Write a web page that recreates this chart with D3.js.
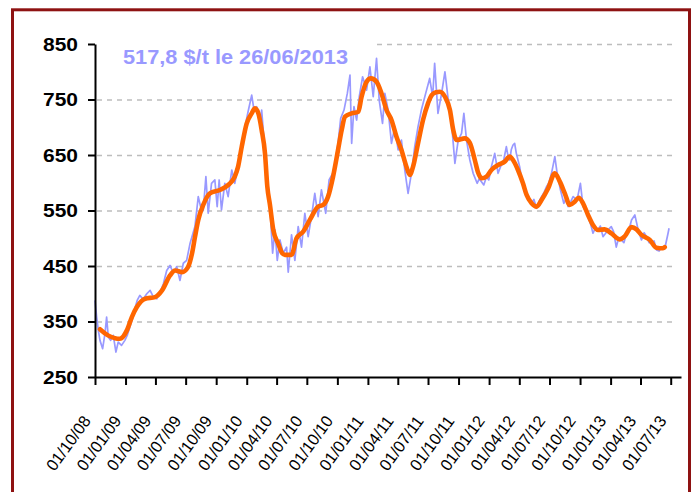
<!DOCTYPE html>
<html>
<head>
<meta charset="utf-8">
<script src="https://cdnjs.cloudflare.com/ajax/libs/d3/7.8.5/d3.min.js"></script>
<style>
    body { margin: 0; background: #fff; }
    svg { display: block; font-family: "Liberation Sans", Arial, sans-serif; }
</style>
</head>
<body>
<div id="chart"></div>
<script>

// Data : cours journalier ($/t)
var daily_dates = [
    "2008-10-01","2008-10-06","2008-10-11","2008-10-16","2008-10-24","2008-10-31","2008-11-05","2008-11-10","2008-11-17","2008-11-25",
    "2008-12-03","2008-12-10","2008-12-20","2008-12-30","2009-01-06","2009-01-14","2009-01-22","2009-01-29","2009-02-05","2009-02-13",
    "2009-02-23","2009-03-06","2009-03-16","2009-03-26","2009-04-05","2009-04-15","2009-04-25","2009-05-05","2009-05-15","2009-05-25",
    "2009-06-04","2009-06-14","2009-06-24","2009-07-04","2009-07-14","2009-07-29","2009-08-08","2009-08-15","2009-08-23","2009-08-31",
    "2009-09-07","2009-09-17","2009-09-27","2009-10-04","2009-10-10","2009-10-17","2009-10-27","2009-11-06","2009-11-17","2009-11-26",
    "2009-12-06","2009-12-17","2009-12-27","2010-01-05","2010-01-16","2010-01-23","2010-01-31","2010-02-10","2010-02-15","2010-02-22",
    "2010-03-04","2010-03-12","2010-03-20","2010-03-27","2010-04-03","2010-04-11","2010-04-21","2010-05-01","2010-05-06","2010-05-16",
    "2010-05-26","2010-06-05","2010-06-15","2010-06-25","2010-07-05","2010-07-15","2010-07-25","2010-08-04","2010-08-14","2010-08-27",
    "2010-09-06","2010-09-17","2010-09-26","2010-10-03","2010-10-11","2010-10-21","2010-10-31","2010-11-08","2010-11-13","2010-11-20",
    "2010-11-28","2010-12-06","2010-12-16","2010-12-28","2011-01-07","2011-01-17","2011-01-27","2011-02-04","2011-02-14","2011-02-21",
    "2011-03-03","2011-03-13","2011-03-23","2011-04-02","2011-04-12","2011-04-22","2011-05-02","2011-05-12","2011-05-22","2011-06-01",
    "2011-06-11","2011-06-24","2011-07-06","2011-07-15","2011-07-21","2011-07-31","2011-08-11","2011-08-21","2011-08-31","2011-09-10",
    "2011-09-20","2011-09-30","2011-10-10","2011-10-17","2011-10-25","2011-11-04","2011-11-14",
    "2011-11-26","2011-12-02","2011-12-09","2011-12-16","2011-12-24","2011-12-31","2012-01-08","2012-01-18","2012-01-28","2012-02-05",
    "2012-02-12","2012-02-17","2012-02-22","2012-02-27","2012-03-03","2012-03-08","2012-03-13","2012-03-18","2012-03-23","2012-04-02",
    "2012-04-12","2012-04-18","2012-04-23","2012-05-01","2012-05-08","2012-05-15","2012-05-23","2012-05-30","2012-06-07","2012-06-14",
    "2012-06-22","2012-06-29","2012-07-07","2012-07-17","2012-07-24","2012-08-03","2012-08-13","2012-08-20","2012-08-26","2012-09-03",
    "2012-09-10","2012-09-22","2012-10-02","2012-10-10","2012-10-18","2012-10-25","2012-11-02","2012-11-09","2012-11-16","2012-11-24",
    "2012-12-01","2012-12-09","2012-12-16","2012-12-24","2013-01-03","2013-01-10","2013-01-18","2013-01-25","2013-02-02","2013-02-10",
    "2013-02-18","2013-02-25","2013-03-05","2013-03-15","2013-03-25","2013-04-04","2013-04-12","2013-04-19","2013-04-27","2013-05-04",
    "2013-05-12","2013-05-19","2013-05-27","2013-06-03","2013-06-13","2013-06-23","2013-06-26"
];
var daily_values = [
    388,358,334,316,301,328,358,322,316,325,
    295,313,307,316,325,340,355,373,388,397,
    390,400,406,394,391,403,418,442,451,437,
    449,424,455,460,490,521,575,557,550,611,
    545,599,605,557,605,551,599,575,623,599,
    629,671,701,728,758,731,737,707,731,677,
    611,557,473,515,460,497,473,484,439,506,
    460,521,484,545,503,539,581,539,587,545,
    605,617,641,671,716,731,761,794,671,737,
    713,755,791,767,809,755,824,749,707,761,
    731,671,701,659,677,623,581,617,665,701,
    731,761,788,755,815,725,761,800,749,707,
    635,677,689,725,677,641,617,
    599,607,602,596,611,605,629,653,617,630,
    635,650,665,648,641,660,668,671,653,629,
    593,585,575,568,563,570,554,566,575,582,
    593,600,617,647,617,587,563,572,557,566,
    575,569,599,557,548,539,525,509,518,515,
    522,503,508,515,521,512,484,500,497,492,
    509,515,533,542,515,497,510,503,492,491,
    495,479,477,484,481,509,518
];

// Data : moyenne mobile
var avg_dates = [
    "2008-10-16","2008-11-09","2008-11-30","2008-12-15","2009-01-05","2009-01-20","2009-02-04","2009-03-01","2009-03-31","2009-04-21",
    "2009-05-15","2009-05-30","2009-06-20","2009-07-08","2009-07-20","2009-07-29","2009-08-08","2009-08-23","2009-09-12","2009-10-12",
    "2009-11-06","2009-11-26","2009-12-06","2009-12-17","2010-01-01","2010-01-16","2010-01-26","2010-02-05","2010-02-15","2010-02-25",
    "2010-03-04","2010-03-12","2010-03-22","2010-04-06","2010-04-17","2010-04-26","2010-05-16","2010-05-31","2010-06-20","2010-07-10",
    "2010-08-04","2010-08-19","2010-09-03","2010-09-18","2010-10-03","2010-10-14","2010-10-24","2010-11-13","2010-12-03","2010-12-13",
    "2010-12-28","2011-01-10","2011-01-27","2011-02-11","2011-02-26","2011-03-13","2011-03-28","2011-04-12","2011-04-27","2011-05-07",
    "2011-05-17","2011-06-01","2011-06-16","2011-07-01","2011-07-12","2011-07-25","2011-08-06","2011-08-21","2011-09-05","2011-09-15",
    "2011-09-25","2011-10-20","2011-11-04","2011-11-19","2011-11-28","2011-12-10","2011-12-24","2012-01-08","2012-01-28","2012-02-17",
    "2012-03-03","2012-03-13","2012-03-28","2012-04-12","2012-04-23","2012-05-08","2012-05-23","2012-06-07","2012-06-27","2012-07-17",
    "2012-08-01","2012-08-16","2012-08-31","2012-09-15","2012-09-27","2012-10-10","2012-10-25","2012-11-09","2012-11-24","2012-12-14",
    "2013-01-03","2013-01-28","2013-02-12","2013-03-05","2013-03-20","2013-04-04","2013-04-29","2013-05-19","2013-06-08","2013-06-13"
];
var avg_values = [
    336,325,320,319,334,358,376,391,394,406,
    433,442,439,448,472,502,533,560,581,587,
    596,611,629,665,707,725,734,725,695,653,
    593,560,515,490,474,470,470,500,512,533,
    557,560,575,611,659,695,719,725,728,755,
    782,788,782,761,731,713,683,659,629,614,
    629,671,713,743,758,763,764,755,731,695,
    677,680,672,641,620,608,611,623,632,638,
    647,641,623,599,578,563,557,569,590,617,
    602,581,560,566,573,563,542,524,515,516,
    509,498,503,520,516,506,497,483,482,484
];

// Axis labels
var x_ticks = [
    "2008-10-01","2009-01-01","2009-04-01","2009-07-01","2009-10-01","2010-01-01","2010-04-01",
    "2010-07-01","2010-10-01","2011-01-01","2011-04-01","2011-07-01","2011-10-01","2012-01-01",
    "2012-04-01","2012-07-01","2012-10-01","2013-01-01","2013-04-01","2013-07-01"
];
var y_ticks = [ 250, 350, 450, 550, 650, 750, 850 ];
var grid_values = [ 350, 450, 550, 650, 750, 850 ];
var title_text = "517,8 $/t le 26/06/2013";

// Variables
var chart_width = 696;
var chart_height = 492;
var parse = d3.timeParse("%Y-%m-%d");

var daily = daily_dates.map(function(d, i){ return { date: parse(d), value: daily_values[i] }; });
var avg = avg_dates.map(function(d, i){ return { date: parse(d), value: avg_values[i] }; });

// Create SVG Element
var svg = d3.select("#chart")
    .append("svg")
    .attr("width", chart_width)
    .attr("height", chart_height);

// Frame
svg.append("rect")
    .attr("x", 12.5)
    .attr("y", 9.8)
    .attr("width", 677)
    .attr("height", 500)
    .attr("fill", "none")
    .attr("stroke", "#8e1212")
    .attr("stroke-width", 3);

// Create Scales
var x_scale = d3.scaleTime()
    .domain([ parse("2008-10-01"), parse("2013-08-01") ])
    .range([ 95, 681 ]);

var y_scale = d3.scaleLinear()
    .domain([ 250, 850 ])
    .range([ 377, 44 ]);

// Grid
var grid = svg.append("g")
    .attr("transform", "translate(95,0)")
    .call(d3.axisLeft(y_scale).tickValues(grid_values).tickSize(-580).tickFormat(""));
grid.select(".domain").remove();
grid.selectAll("line")
    .attr("stroke", "#bdbdbd")
    .attr("stroke-width", 1.6)
    .attr("stroke-dasharray", "5,5")
    .attr("transform", "translate(2,0)");

// Title (white box hides the top grid line)
svg.append("rect")
    .attr("x", 97)
    .attr("y", 38)
    .attr("width", 275)
    .attr("height", 12)
    .attr("fill", "#fff");

svg.append("text")
    .attr("x", 123)
    .attr("y", 64.3)
    .attr("fill", "#9999ff")
    .attr("font-size", 20)
    .attr("font-weight", "bold")
    .attr("textLength", 225)
    .attr("lengthAdjust", "spacingAndGlyphs")
    .text(title_text);

// Lines
var line = d3.line()
    .x(function(d){ return x_scale(d.date); })
    .y(function(d){ return y_scale(d.value); });

svg.append("path")
    .datum(daily)
    .attr("d", line)
    .attr("fill", "none")
    .attr("stroke", "#9999ff")
    .attr("stroke-width", 1.7)
    .attr("stroke-linejoin", "round");

svg.append("path")
    .datum(avg)
    .attr("d", line.curve(d3.curveMonotoneX))
    .attr("fill", "none")
    .attr("stroke", "#ff6600")
    .attr("stroke-width", 4.6)
    .attr("stroke-linejoin", "round")
    .attr("stroke-linecap", "round");

// Create Axis
var y_axis = d3.axisLeft(y_scale)
    .tickValues(y_ticks)
    .tickSize(7)
    .tickSizeOuter(0)
    .tickPadding(10);
var gy = svg.append("g")
    .attr("transform", "translate(95,0)")
    .call(y_axis);
gy.selectAll("path, line").attr("stroke", "#000").attr("stroke-width", 2);
gy.selectAll("text")
    .attr("font-size", 19)
    .attr("font-weight", "bold")
    .attr("font-family", "Liberation Sans, Arial, sans-serif")
    .attr("fill", "#000")
    .attr("textLength", 35)
    .attr("lengthAdjust", "spacingAndGlyphs");

var x_axis = d3.axisBottom(x_scale)
    .tickValues(x_ticks.map(parse))
    .tickSize(8)
    .tickSizeOuter(0)
    .tickFormat(d3.timeFormat("%d/%m/%y"));
var gx = svg.append("g")
    .attr("transform", "translate(0,377)")
    .call(x_axis);
gx.selectAll("path, line").attr("stroke", "#000").attr("stroke-width", 2);
gx.selectAll("text")
    .attr("x", 0)
    .attr("y", 0)
    .attr("dy", 0)
    .attr("text-anchor", "end")
    .attr("transform", "translate(-4,44) rotate(-54)")
    .attr("font-size", 16.5)
    .attr("font-family", "Liberation Sans, Arial, sans-serif")
    .attr("fill", "#000")
    .attr("textLength", 63)
    .attr("lengthAdjust", "spacingAndGlyphs");

</script>
</body>
</html>
